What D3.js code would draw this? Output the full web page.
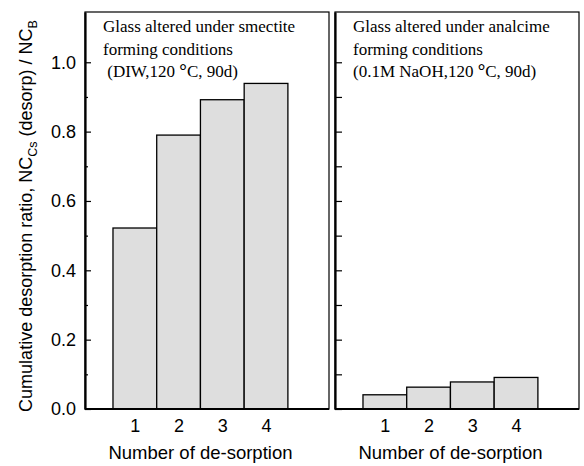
<!DOCTYPE html>
<html>
<head>
<meta charset="utf-8">
<script src="https://cdn.jsdelivr.net/npm/d3@7"></script>
<style>
  body { margin: 0; background: #fff; }
  svg { display: block; }
</style>
</head>
<body>
<svg width="584" height="466"></svg>
<script>
// values
var desorptionSteps = [1, 2, 3, 4];
var smectiteRatio = [0.522, 0.790, 0.892, 0.939];
var analcimeRatio = [0.041, 0.063, 0.078, 0.091];
var yTickValues = [0, 0.2, 0.4, 0.6, 0.8, 1.0];
var yMinorValues = [0.1, 0.3, 0.5, 0.7, 0.9];
var smectiteNote = ["Glass altered under smectite", "forming conditions", " (DIW,120 |°|C, 90d)"];
var analcimeNote = ["Glass altered under analcime", "forming conditions", "(0.1M NaOH,120 |°|C, 90d)"];
var xTitle = "Number of de-sorption";

function main(){
    var svg = d3.select("svg");

    var top = 12, bottom = 409;
    var yScale = d3.scaleLinear().domain([0, 1.145]).range([bottom, top]);

    // y label with subscripts
    var ylab = svg.append("text")
        .attr("transform", "translate(32," + 216 + ") rotate(-90)")
        .attr("text-anchor", "middle")
        .style("font-family", "Arial, 'Liberation Sans', sans-serif")
        .style("font-size", "18px");
    ylab.append("tspan").text("Cumulative desorption ratio, NC");
    ylab.append("tspan").attr("dy", 5).style("font-size", "12.5px").text("Cs");
    ylab.append("tspan").attr("dy", -5).text(" (desorp) / NC");
    ylab.append("tspan").attr("dy", 5).style("font-size", "12.5px").text("B");

    function panel(left, right, values, note, labels){
        var xScale = d3.scaleLinear().domain([-0.14, 5.44]).range([left, right]);
        var g = svg.append("g");

        // frame
        g.append("rect")
            .attr("x", left).attr("y", top)
            .attr("width", right - left).attr("height", bottom - top)
            .attr("fill", "none").attr("stroke", "#000").attr("stroke-width", 1.2);

        // bars
        g.selectAll(".bar")
            .data(values)
            .enter()
            .append("rect")
            .attr("class", "bar")
            .attr("x", function(d, i){ return xScale(desorptionSteps[i] - 0.5); })
            .attr("y", function(d){ return yScale(d); })
            .attr("width", function(d, i){ return xScale(desorptionSteps[i] + 0.5) - xScale(desorptionSteps[i] - 0.5); })
            .attr("height", function(d){ return bottom - yScale(d); })
            .attr("fill", "#dedede")
            .attr("stroke", "#000")
            .attr("stroke-width", 1.3);

        // bottom line
        g.append("line")
            .attr("x1", left).attr("x2", right)
            .attr("y1", bottom).attr("y2", bottom)
            .attr("stroke", "#000").attr("stroke-width", 2);

        // y axis, ticks pointing inward
        var major = d3.axisLeft(yScale).tickValues(yTickValues)
            .tickSizeInner(labels ? -6 : -7).tickSizeOuter(0).tickPadding(9)
            .tickFormat(labels ? d3.format(".1f") : "");
        var ax = g.append("g").attr("transform", "translate(" + left + ",0)").call(major);
        ax.select(".domain").attr("stroke-width", 2.2);
        ax.selectAll("line").attr("stroke-width", 1.2);
        ax.selectAll("text")
            .style("font-family", "Arial, 'Liberation Sans', sans-serif")
            .style("font-size", "18px")
            .attr("fill", "#000");

        var minor = d3.axisLeft(yScale).tickValues(yMinorValues)
            .tickSizeInner(labels ? -3 : -7).tickSizeOuter(0).tickFormat("");
        var mx = g.append("g").attr("transform", "translate(" + left + ",0)").call(minor);
        mx.select(".domain").remove();
        mx.selectAll("line").attr("stroke-width", 1.2);

        // x labels
        var xAxis = d3.axisBottom(xScale).tickValues(desorptionSteps)
            .tickSize(0).tickPadding(10).tickFormat(d3.format("d"));
        var xg = g.append("g").attr("transform", "translate(0," + bottom + ")").call(xAxis);
        xg.select(".domain").remove();
        xg.selectAll("text")
            .style("font-family", "Arial, 'Liberation Sans', sans-serif")
            .style("font-size", "18px")
            .attr("fill", "#000");

        g.append("text")
            .attr("x", (xScale(0.5) + xScale(4.5)) / 2)
            .attr("y", 459)
            .attr("text-anchor", "middle")
            .style("font-family", "Arial, 'Liberation Sans', sans-serif")
            .style("font-size", "18.5px")
            .text(xTitle);

        // annotation
        note.forEach(function(line, i){
            var t = g.append("text")
                .attr("x", left + 18)
                .attr("y", 32 + i * 22.5)
                .style("font-family", "'Liberation Serif', 'Times New Roman', serif")
                .style("font-size", "17px")
                .style("white-space", "pre")
                .attr("xml:space", "preserve");
            line.split("|").forEach(function(part){
                var s = t.append("tspan").text(part);
                if (part === "°") s.style("font-weight", "bold").style("font-size", "19px");
            });
        });
    }

    panel(85, 329, smectiteRatio, smectiteNote, true);
    panel(335, 579, analcimeRatio, analcimeNote, false);
}
main();
</script>
</body>
</html>
